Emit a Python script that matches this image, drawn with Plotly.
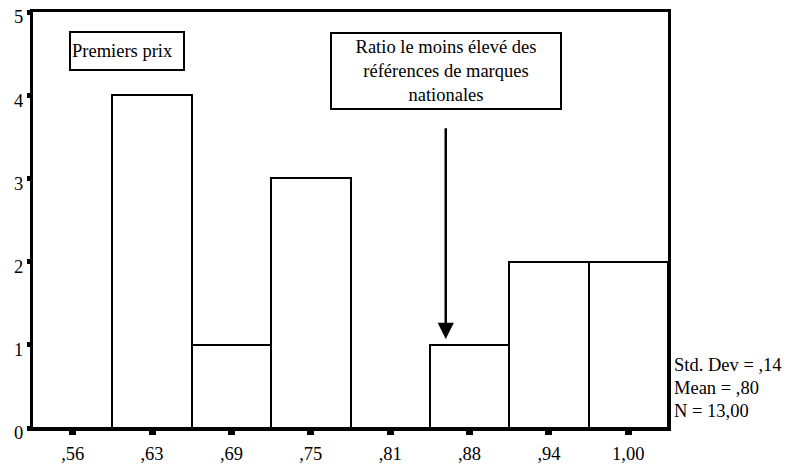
import plotly.graph_objects as go

categories = [",56", ",63", ",69", ",75", ",81", ",88", ",94", "1,00"]
counts = [0, 4, 1, 3, 0, 1, 2, 2]
y_ticks = [0, 1, 2, 3, 4, 5]
stats_lines = ["Std. Dev = ,14", "Mean = ,80", "N = 13,00"]
note_first = "Premiers prix"
note_national = "Ratio le moins élevé des<br>références de marques<br>nationales"

FONT = "Times New Roman, Liberation Serif, DejaVu Serif, serif"
FS = 18.5

fig = go.Figure()
fig.add_trace(go.Bar(
    x=categories, y=counts,
    marker=dict(color="white", line=dict(color="black", width=2)),
    width=1.0, showlegend=False,
))

# page body has an 8px margin, so the figure is 787x457 placed at (8, 8)
fig.update_layout(
    width=787, height=457,
    margin=dict(l=25, r=127, t=4, b=37, autoexpand=False),
    paper_bgcolor="white", plot_bgcolor="white",
    bargap=0,
    font=dict(family=FONT, color="black"),
    xaxis=dict(
        type="category", range=[-0.5, 7.5], automargin=False,
        showline=True, linecolor="black", linewidth=3, mirror=True,
        ticks="outside", ticklen=4, tickwidth=7, tickcolor="black",
        ticklabelstandoff=3,
        tickfont=dict(family=FONT, size=FS, color="black"),
        showgrid=False, zeroline=False,
    ),
    yaxis=dict(
        range=[0, 5], tickvals=y_ticks, automargin=False,
        showline=True, linecolor="black", linewidth=3, mirror=True,
        ticks="outside", ticklen=3, tickwidth=5, tickcolor="black",
        ticklabelshift=5, ticklabeloverflow="allow",
        tickfont=dict(family=FONT, size=FS, color="black"),
        showgrid=False, zeroline=False,
    ),
)

# Text boxes
fig.add_annotation(
    x=0.684, y=4.53, xref="x", yref="y", text=note_first, showarrow=False,
    font=dict(family=FONT, size=FS, color="black"),
    align="left", xanchor="center", yanchor="middle",
    width=110, height=34, bordercolor="black", borderwidth=2, borderpad=1,
    bgcolor="white",
)
fig.add_annotation(
    x=4.70, y=4.29, xref="x", yref="y", text=note_national, showarrow=False,
    font=dict(family=FONT, size=FS, color="black"),
    align="center", xanchor="center", yanchor="middle",
    width=226, height=72, bordercolor="black", borderwidth=2, borderpad=1,
    bgcolor="white",
)
# Arrow to the ,88 bar
fig.add_annotation(
    x=4.70, y=1.07, xref="x", yref="y",
    ax=4.70, ay=3.62, axref="x", ayref="y",
    text="", showarrow=True, arrowhead=2, arrowsize=1.3, arrowwidth=2.5,
    arrowcolor="black",
)

# Stats
for i, line in enumerate(stats_lines):
    fig.add_annotation(
        x=1.006, y=(428 - (365 + 23 * i)) / 416, xref="paper", yref="paper",
        text=line, showarrow=False, xanchor="left", yanchor="middle",
        font=dict(family=FONT, size=FS, color="black"),
    )

fig.write_html("out.html")
